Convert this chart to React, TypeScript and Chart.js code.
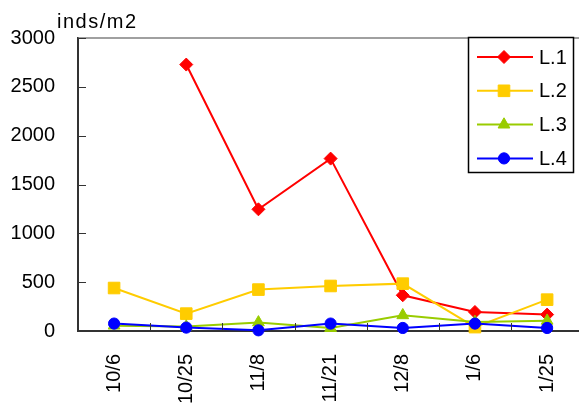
import React, { useEffect, useRef } from "react";
import { Chart, registerables } from "chart.js";

Chart.register(...registerables);

const categories = ["10/6", "10/25", "11/8", "11/21", "12/8", "1/6", "1/25"];
const seriesNames = ["L.1", "L.2", "L.3", "L.4"];
const l1Values = [null, 2728, 1246, 1765, 366, 195, 168];
const l2Values = [440, 178, 424, 461, 485, 40, 321];
const l3Values = [55, 45, 88, 30, 161, 92, 105];
const l4Values = [76, 35, 7, 76, 31, 76, 31];
const yTicks = [0, 500, 1000, 1500, 2000, 2500, 3000];
const unitLabel = "inds/m2";

const colors = ["#FF0000", "#FFCC00", "#99CC00", "#0000FF"];
const styles = ["rectRot", "rect", "triangle", "circle"];
const radii = [6.5, 8.2, 6.8, 5.6];
const FONT = "'Liberation Sans', Arial, sans-serif";

function drawMarker(ctx: CanvasRenderingContext2D, style: string, x: number, y: number, r: number) {
  ctx.beginPath();
  if (style === "rectRot") {
    ctx.moveTo(x, y - r);
    ctx.lineTo(x + r, y);
    ctx.lineTo(x, y + r);
    ctx.lineTo(x - r, y);
    ctx.closePath();
  } else if (style === "rect") {
    const s = Math.SQRT1_2 * r;
    ctx.rect(x - s, y - s, 2 * s, 2 * s);
  } else if (style === "triangle") {
    ctx.moveTo(x, y - r);
    ctx.lineTo(x + r * Math.sin((2 * Math.PI) / 3), y - r * Math.cos((2 * Math.PI) / 3));
    ctx.lineTo(x + r * Math.sin((4 * Math.PI) / 3), y - r * Math.cos((4 * Math.PI) / 3));
    ctx.closePath();
  } else {
    ctx.arc(x, y, r, 0, Math.PI * 2);
  }
  ctx.fill();
  ctx.stroke();
}

const decorPlugin = {
  id: "decor",
  afterDraw(chart: any) {
    const ctx: any = chart.ctx;
    const area = chart.chartArea;
    const xs = chart.scales.x;
    const ys = chart.scales.y;
    ctx.save();
    ctx.strokeStyle = "#808080";
    ctx.lineWidth = 1.5;
    ctx.beginPath();
    ctx.moveTo(area.left, area.top);
    ctx.lineTo(area.right, area.top);
    ctx.stroke();
    ctx.strokeStyle = "#333";
    ctx.lineWidth = 1;
    yTicks.forEach((v) => {
      const py = Math.round(ys.getPixelForValue(v)) + 0.5;
      ctx.beginPath();
      ctx.moveTo(area.left, py);
      ctx.lineTo(area.left + 8, py);
      ctx.stroke();
    });
    for (let i = 1; i < categories.length; i++) {
      const px = Math.round((xs.getPixelForValue(i - 1) + xs.getPixelForValue(i)) / 2) + 0.5;
      ctx.beginPath();
      ctx.moveTo(px, area.bottom);
      ctx.lineTo(px, area.bottom - 8);
      ctx.stroke();
    }
    ctx.fillStyle = "#000";
    ctx.font = `20px ${FONT}`;
    ctx.textAlign = "left";
    ctx.textBaseline = "alphabetic";
    ctx.letterSpacing = "1.5px";
    ctx.fillText(unitLabel, 57, 28);
    ctx.letterSpacing = "0px";
    const bx = 468.5, by = 37.5, bw = 105, bh = 135;
    ctx.fillStyle = "#fff";
    ctx.fillRect(bx, by, bw, bh);
    ctx.strokeStyle = "#000";
    ctx.lineWidth = 1.5;
    ctx.strokeRect(bx, by, bw, bh);
    chart.data.datasets.forEach((ds: any, i: number) => {
      const y = 57 + i * 33.8;
      ctx.strokeStyle = ds.borderColor;
      ctx.lineWidth = 2;
      ctx.beginPath();
      ctx.moveTo(477, y);
      ctx.lineTo(533, y);
      ctx.stroke();
      ctx.fillStyle = ds.backgroundColor;
      ctx.lineWidth = 1;
      drawMarker(ctx, ds.pointStyle, 504, y, ds.pointRadius);
      ctx.fillStyle = "#000";
      ctx.font = `20px ${FONT}`;
      ctx.textAlign = "left";
      ctx.textBaseline = "middle";
      ctx.fillText(ds.label, 539, y + 1);
    });
    ctx.restore();
  },
};

export default function App() {
  const ref = useRef<HTMLCanvasElement | null>(null);
  useEffect(() => {
    if (!ref.current) return;
    const values = [l1Values, l2Values, l3Values, l4Values];
    const chart = new Chart(ref.current, {
      type: "line",
      data: {
        labels: categories,
        datasets: seriesNames.map((name, i) => ({
          label: name,
          data: values[i] as any,
          borderColor: colors[i],
          backgroundColor: colors[i],
          pointBackgroundColor: colors[i],
          pointBorderColor: colors[i],
          pointStyle: styles[i] as any,
          pointRadius: radii[i],
          pointBorderWidth: 1,
          borderWidth: 2,
          tension: 0,
          fill: false,
          clip: false as any,
          order: 4 - i,
        })),
      },
      options: {
        animation: false,
        responsive: false,
        devicePixelRatio: 1,
        layout: { padding: { left: 0, top: 38, right: 16.8, bottom: 0 } },
        plugins: { legend: { display: false }, title: { display: false }, tooltip: { enabled: false } },
        scales: {
          x: {
            type: "category",
            offset: true,
            grid: { display: true, drawOnChartArea: false, drawTicks: false, offset: true },
            border: { display: true, color: "#333", width: 2 },
            ticks: {
              autoSkip: false,
              maxRotation: 90,
              minRotation: 90,
              padding: 23,
              color: "#000",
              font: { size: 20, family: FONT },
            },
            afterFit: (s: any) => {
              s.height = 79;
            },
          },
          y: {
            min: 0,
            max: 3000,
            grid: { display: true, drawOnChartArea: false, drawTicks: false },
            border: { display: true, color: "#333", width: 2 },
            ticks: {
              stepSize: 500,
              padding: 23,
              color: "#000",
              font: { size: 20, family: FONT },
              callback: (v: any) => String(v),
            },
            afterFit: (s: any) => {
              s.width = 78;
            },
          },
        },
      },
      plugins: [decorPlugin],
    });
    return () => chart.destroy();
  }, []);
  return (
    <div style={{ position: "fixed", left: 0, top: 0, width: 579, height: 410, overflow: "hidden", background: "#fff" }}>
      <canvas ref={ref} width={600} height={410} style={{ width: 600, height: 410, display: "block" }} />
    </div>
  );
}
